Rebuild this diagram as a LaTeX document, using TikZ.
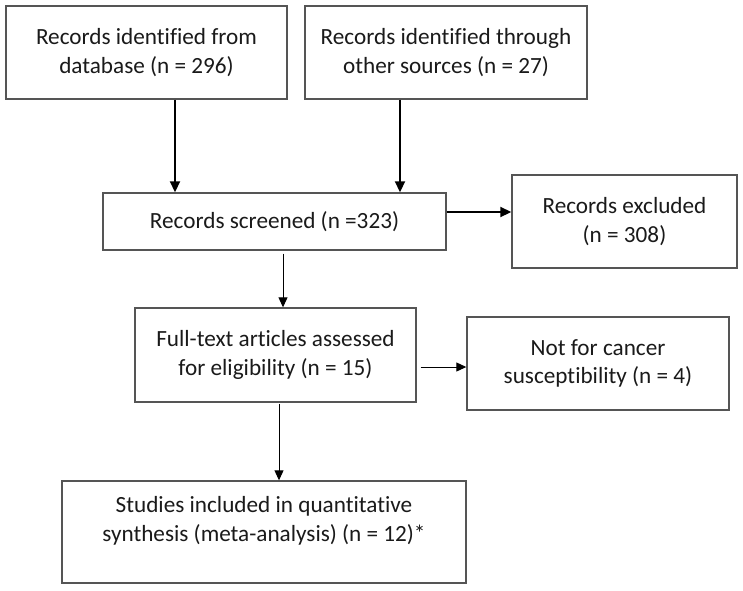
\documentclass[tikz,border=0pt]{standalone}
\usepackage{fontspec}
\setmainfont{Carlito}[Ligatures={NoCommon}]
\usetikzlibrary{arrows.meta}
\definecolor{boxline}{HTML}{555555}
\definecolor{txt}{HTML}{1A1A1A}
\begin{document}
\begin{tikzpicture}[x=1pt,y=-1pt,
  box/.style={draw=boxline, line width=1.4pt, fill=white, inner sep=0pt, anchor=center,
    align=center, text=txt, font=\fontsize{23.2}{28.5}\selectfont},
  thick arrow/.style={draw=black, line width=1.8pt, -{Triangle[length=11pt,width=10pt]}},
  thin arrow/.style={draw=black, line width=1pt, -{Triangle[length=10pt,width=9pt]}},
  label text/.style={align=center, text=txt, inner sep=0pt, font=\fontsize{23.2}{29.5}\selectfont}]
\useasboundingbox (0,0) rectangle (743,590);
\fill[white] (0,0) rectangle (743,590);

\node[box, minimum width=281pt, minimum height=93pt] (b1) at (146.5,52.5)
  {Records identified from\\database (n = 296)};
\node[box, minimum width=282pt, minimum height=93pt] (b2) at (446,52.5)
  {Records identified through\\other sources (n = 27)};
\node[box, minimum width=343pt, minimum height=57pt] (b3) at (274.5,221.5)
  {Records screened (n =323)};
\node[box, minimum width=225pt, minimum height=93pt] (b4) at (624.5,221.5)
  {Records excluded\\(n = 308)};
\node[box, minimum width=281pt, minimum height=94pt] (b5) at (275.5,355)
  {Full-text articles assessed\\for eligibility (n = 15)};
\node[box, minimum width=262pt, minimum height=93pt] (b6) at (598,363.5)
  {Not for cancer\\susceptibility (n = 4)};
\node[box, minimum width=404pt, minimum height=102pt] (b7) at (264,532) {};
\node[label text] (b7t) at (264,521)
  {Studies included in quantitative\\synthesis (meta-analysis) (n = 12)*};

\draw[thick arrow] (b1.south -| 175,0) -- (b3.north -| 175,0);
\draw[thick arrow] (b2.south -| 400,0) -- (b3.north -| 400,0);
\draw[thick arrow] (b3.east |- 0,212) -- (b4.west |- 0,212);
\draw[thin arrow, shorten <=3pt] (b3.south -| 283,0) -- (b5.north -| 283,0);
\draw[thin arrow, shorten <=4pt] (b5.east |- 0,367) -- (b6.west |- 0,367);
\draw[thin arrow, shorten <=1pt] (b5.south -| 279,0) -- (b7.north -| 279,0);
\end{tikzpicture}
\end{document}
